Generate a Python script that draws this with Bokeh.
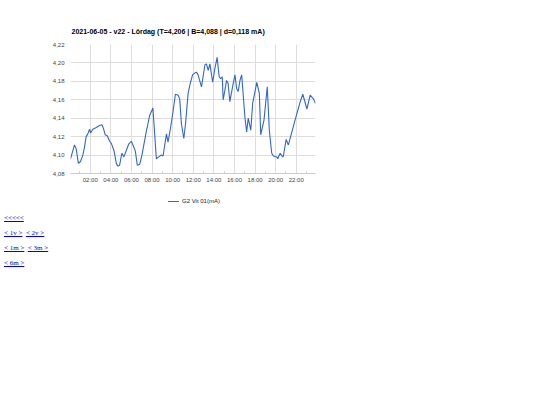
import pandas as pd
from bokeh.plotting import figure
from bokeh.models import (ColumnDataSource, Range1d, FixedTicker, DatetimeTickFormatter,
                          CustomJSTickFormatter, Div)
from bokeh.layouts import column
from bokeh.embed import file_html
from bokeh.resources import INLINE

DAY = "2021-06-05"
TITLE = "2021-06-05 - v22 - Lördag (T=4,206 | B=4,088 | d=0,118 mA)"
SERIES_NAME = "G2 Vit 01(mA)"
LINE_COLOR = "#3366cc"

times = ["00:05", "00:16", "00:28", "00:38", "00:51", "01:03", "01:17", "01:26", "01:36", "01:46",
         "01:56", "02:02", "02:15", "02:35", "02:54", "03:08", "03:17", "03:27", "03:39", "03:53",
         "04:02", "04:18", "04:32", "04:41", "04:51", "05:04", "05:16", "05:30", "05:44", "05:59",
         "06:09", "06:23", "06:34", "06:48", "07:01", "07:17", "07:27", "07:36", "07:46", "08:05",
         "08:25", "08:39", "08:55", "09:04", "09:24", "09:33", "09:49", "10:02", "10:16", "10:32",
         "10:41", "10:51", "11:05", "11:15", "11:30", "11:40", "11:56", "12:09", "12:19", "12:28",
         "12:48", "13:08", "13:17", "13:27", "13:37", "13:53", "14:06", "14:19", "14:31", "14:39",
         "14:49", "14:54", "15:04", "15:14", "15:23", "15:33", "15:53", "16:03", "16:13", "16:22",
         "16:32", "16:42", "17:01", "17:11", "17:20", "17:35", "17:46", "18:10", "18:25", "18:33",
         "18:52", "19:11", "19:23", "19:37", "19:47", "20:07", "20:12", "20:26", "20:41", "20:45",
         "21:01", "21:14", "21:53", "22:23", "22:38", "23:02", "23:21", "23:40", "23:52"]
values = [4.096, 4.103, 4.111, 4.107, 4.091, 4.093, 4.100, 4.108, 4.120, 4.123,
          4.128, 4.124, 4.128, 4.130, 4.132, 4.133, 4.129, 4.122, 4.121, 4.115,
          4.113, 4.105, 4.091, 4.088, 4.089, 4.102, 4.098, 4.105, 4.112, 4.115,
          4.111, 4.104, 4.089, 4.090, 4.100, 4.116, 4.126, 4.134, 4.143, 4.151,
          4.096, 4.098, 4.100, 4.099, 4.123, 4.114, 4.131, 4.147, 4.166, 4.165,
          4.161, 4.134, 4.118, 4.134, 4.167, 4.176, 4.187, 4.189, 4.190, 4.187,
          4.174, 4.198, 4.199, 4.192, 4.199, 4.179, 4.194, 4.206, 4.185, 4.183,
          4.185, 4.160, 4.170, 4.181, 4.178, 4.158, 4.178, 4.187, 4.172, 4.169,
          4.181, 4.187, 4.141, 4.125, 4.140, 4.127, 4.156, 4.179, 4.167, 4.122,
          4.138, 4.174, 4.127, 4.102, 4.099, 4.098, 4.096, 4.102, 4.098, 4.099,
          4.117, 4.111, 4.138, 4.158, 4.166, 4.150, 4.165, 4.161, 4.156]

y_ticks = [4.08, 4.10, 4.12, 4.14, 4.16, 4.18, 4.20, 4.22]
major_hours = [2, 4, 6, 8, 10, 12, 14, 16, 18, 20, 22]
minor_hours = [1, 3, 5, 7, 9, 11, 13, 15, 17, 19, 21, 23]
links = [["<<<<<"], ["< 1v >", "< 2v >"], ["< 1m >", "< 3m >"], ["< 6m >"]]

dt = pd.to_datetime([f"{DAY} {t}" for t in times])
src = ColumnDataSource(dict(t=dt, v=values))

day0 = pd.Timestamp(DAY)
def hms(h):
    return (day0 + pd.Timedelta(hours=h)).value / 1e6

p = figure(width=330, height=190, x_axis_type="datetime", output_backend="svg",
           toolbar_location=None, min_border_left=70, min_border_right=15,
           min_border_top=44, min_border_bottom=17,
           x_range=Range1d(dt.min(), dt.max()), y_range=Range1d(y_ticks[0], y_ticks[-1]))
p.outline_line_color = None
p.background_fill_color = "white"
p.border_fill_color = "white"

p.title.text = TITLE
p.title.text_font = "Liberation Sans"
p.title.text_font_size = "7px"
p.title.text_font_style = "bold"
p.title.text_color = "#000000"
p.title.align = "left"
p.title.offset = 1
p.title.standoff = 19

r = p.line("t", "v", source=src, line_color=LINE_COLOR, line_width=1.1)

xa = p.xaxis[0]
xa.ticker = FixedTicker(ticks=[hms(h) for h in major_hours], minor_ticks=[hms(h) for h in minor_hours])
xa.formatter = DatetimeTickFormatter(hours="%H:%M", days="%H:%M", hourmin="%H:%M")
xa.axis_line_color = "#cccccc"
xa.major_tick_line_color = None
xa.major_tick_in = 0
xa.major_tick_out = 0
xa.minor_tick_line_color = "#cccccc"
xa.minor_tick_in = 2
xa.minor_tick_out = 0
xa.major_label_standoff = 3
xa.major_label_text_font = "Liberation Sans"
xa.major_label_text_font_size = "6px"
xa.major_label_text_color = "#444444"

ya = p.yaxis[0]
ya.ticker = FixedTicker(ticks=y_ticks)
ya.formatter = CustomJSTickFormatter(code="return tick.toFixed(2).replace('.', ',');")
ya.axis_line_color = None
ya.major_tick_line_color = None
ya.minor_tick_line_color = None
ya.major_label_standoff = 0
ya.major_label_text_font = "Liberation Sans"
ya.major_label_text_font_size = "6px"
ya.major_label_text_color = "#444444"

p.xgrid.grid_line_color = "#dddddd"
p.ygrid.grid_line_color = "#dddddd"

legend_html = (
    '<div style="display:flex; align-items:center; height:14px; padding-left:168px; '
    'font-family:\'Liberation Sans\'; font-size:6px; color:#222222;">'
    f'<span style="display:inline-block; width:11px; height:1.5px; background:{LINE_COLOR}; '
    'margin-right:3px;"></span>'
    f'<span>{SERIES_NAME}</span></div>')
legend_div = Div(text=legend_html, width=330, height=14, margin=0)

rows = []
for row in links:
    rows.append("&nbsp; ".join(
        f'<a href="#" style="color:#0000ee">{s.replace("<", "&lt;").replace(">", "&gt;")}</a>' for s in row))
html = ('<div style="padding-left:4px; padding-top:7px; font-family:\'Liberation Serif\'; '
        'font-size:7px; line-height:15px;">' + "<br>".join(rows) + "</div>")
div = Div(text=html, width=200, height=70, margin=0)

layout = column(p, legend_div, div, spacing=0)
open("out.html", "w").write(file_html(layout, INLINE))
